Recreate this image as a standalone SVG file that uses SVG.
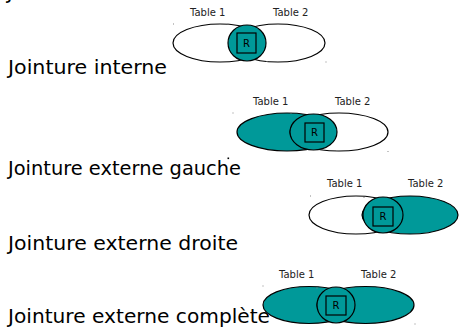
<svg xmlns="http://www.w3.org/2000/svg" width="459" height="331" viewBox="0 0 459 331">
  <style>
    .caption { font-family: "DejaVu Sans", "Liberation Sans", sans-serif; font-size: 19px; fill: #000; }
    .tbl { font-family: "DejaVu Sans", "Liberation Sans", sans-serif; font-size: 10px; fill: #222; }
    .r { font-family: "DejaVu Sans", "Liberation Sans", sans-serif; font-size: 10px; fill: #000; text-anchor: middle; }
    .set { stroke: #000; stroke-width: 1.2; }
    .empty { fill: #fff; }
    .full { fill: #009999; }
    .box { fill: none; stroke: #000; stroke-width: 1.2; }
    .dot { fill: #888; }
  </style>
  <rect width="459" height="331" fill="#fff"/>

  <!-- tail of the heading line above -->
  <text class="caption" x="7" y="-1">J</text>

  <!-- inner join -->
  <g id="inner-join">
    <text class="caption" x="8" y="74" textLength="159" lengthAdjust="spacingAndGlyphs">Jointure interne</text>
    <text class="tbl" x="190" y="16">Table 1</text>
    <text class="tbl" x="273" y="16">Table 2</text>
    <ellipse class="set empty" cx="220" cy="43" rx="47" ry="19"/>
    <ellipse class="set empty" cx="278" cy="43" rx="47" ry="19"/>
    <ellipse class="set full" cx="247" cy="43" rx="19" ry="18"/>
    <rect class="box" x="237" y="33" width="19" height="20"/>
    <text class="r" x="246.5" y="47">R</text>
    <rect class="dot" x="173" y="23.5" width="1" height="1"/>
    <rect class="dot" x="227.5" y="23.5" width="1" height="1"/>
    <rect class="dot" x="266.5" y="61" width="1" height="1"/>
    <rect class="dot" x="325.5" y="61.5" width="1" height="1"/>
  </g>

  <!-- left outer join -->
  <g id="left-join">
    <text class="caption" x="8" y="175" textLength="233" lengthAdjust="spacingAndGlyphs">Jointure externe gauche</text>
    <text class="tbl" x="253" y="105">Table 1</text>
    <text class="tbl" x="335" y="105">Table 2</text>
    <ellipse class="set full" cx="287" cy="132" rx="50" ry="19"/>
    <ellipse class="set empty" cx="339" cy="132" rx="49" ry="19"/>
    <ellipse class="set full" cx="313.5" cy="132" rx="23.5" ry="18"/>
    <rect class="box" x="305" y="123" width="19" height="19"/>
    <text class="r" x="314.5" y="136">R</text>
    <rect class="dot" x="232.5" y="112.5" width="1" height="1"/>
    <rect class="dot" x="290.5" y="112.5" width="1" height="1"/>
    <rect class="dot" x="336.5" y="150" width="1" height="1"/>
    <rect class="dot" x="387.5" y="151" width="1" height="1"/>
    <rect fill="#000" x="227.5" y="157.5" width="1.6" height="1.6"/>
  </g>

  <!-- right outer join -->
  <g id="right-join">
    <text class="caption" x="8" y="250" textLength="230" lengthAdjust="spacingAndGlyphs">Jointure externe droite</text>
    <text class="tbl" x="327" y="187">Table 1</text>
    <text class="tbl" x="408" y="187">Table 2</text>
    <ellipse class="set empty" cx="356" cy="215" rx="47" ry="19"/>
    <ellipse class="set full" cx="410" cy="215" rx="48" ry="19"/>
    <ellipse class="set full" cx="383" cy="215" rx="20" ry="18"/>
    <rect class="box" x="373" y="207" width="20" height="19"/>
    <text class="r" x="383" y="220">R</text>
    <rect class="dot" x="310" y="195.5" width="1" height="1"/>
    <rect class="dot" x="363.5" y="197" width="1" height="1"/>
  </g>

  <!-- full outer join -->
  <g id="full-join">
    <text class="caption" x="8" y="323" textLength="262" lengthAdjust="spacingAndGlyphs">Jointure externe complète</text>
    <text class="tbl" x="279" y="278">Table 1</text>
    <text class="tbl" x="361" y="278">Table 2</text>
    <ellipse class="set full" cx="309" cy="305" rx="46" ry="18.5"/>
    <ellipse class="set full" cx="365.5" cy="305" rx="48.5" ry="18.5"/>
    <ellipse class="set full" cx="336" cy="305" rx="19" ry="18"/>
    <rect class="box" x="326" y="296" width="20" height="19"/>
    <text class="r" x="336" y="309">R</text>
    <rect class="dot" x="262.5" y="285.5" width="1" height="1"/>
    <rect class="dot" x="316.5" y="287.5" width="1" height="1"/>
    <rect class="dot" x="414.5" y="323.5" width="1" height="1"/>
  </g>

  <!-- no connectors between the join figures -->
  <g id="connectors"/>
</svg>
